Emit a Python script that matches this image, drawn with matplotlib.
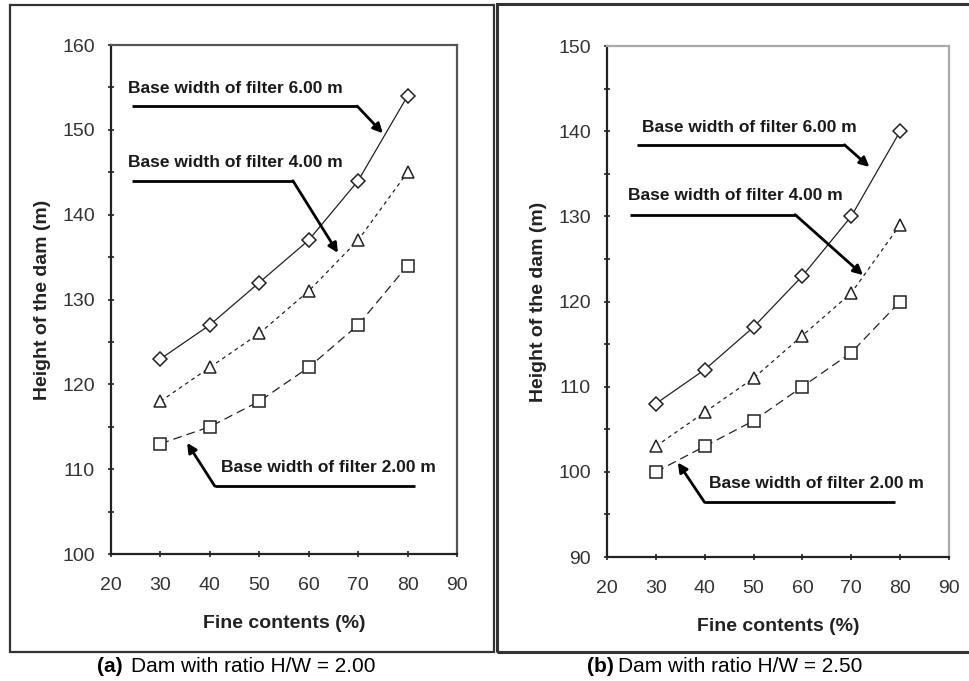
import matplotlib.pyplot as plt
from matplotlib.patches import Rectangle

plt.rcParams['font.family'] = ['Liberation Sans', 'DejaVu Sans']

fines = [30, 40, 50, 60, 70, 80]

# (a) H/W = 2.00
a_filter6 = [123, 127, 132, 137, 144, 154]
a_filter4 = [118, 122, 126, 131, 137, 145]
a_filter2 = [113, 115, 118, 122, 127, 134]

# (b) H/W = 2.50
b_filter6 = [108, 112, 117, 123, 130, 140]
b_filter4 = [103, 107, 111, 116, 121, 129]
b_filter2 = [100, 103, 106, 110, 114, 120]

labels = ['Base width of filter 6.00 m', 'Base width of filter 4.00 m',
          'Base width of filter 2.00 m']


def draw_series(ax, s6, s4, s2):
    mk = dict(mfc='white', mec='#222222', mew=1.1, color='#222222', lw=0.9)
    ax.plot(fines, s6, marker='D', ms=7, ls='-', **mk)
    ax.plot(fines, s4, marker='^', ms=8.5, ls=(0, (3, 3)), **mk)
    ax.plot(fines, s2, marker='s', ms=8, ls=(0, (7, 4)), **mk)


def callout(ax, text, text_xy, start, corner, tip, ha='left'):
    ax.text(text_xy[0], text_xy[1], text, fontsize=12.5, fontweight='bold',
            ha=ha, va='center', color='#1a1a1a')
    ax.plot([start[0], corner[0]], [start[1], corner[1]], color='black',
            lw=2, solid_capstyle='butt')
    ax.annotate('', xy=tip, xytext=corner,
                arrowprops=dict(arrowstyle='-|>', color='black', lw=2,
                                mutation_scale=14, shrinkA=0, shrinkB=0))


def style_axes(ax, ylo, yhi, spine_col):
    ax.set_xlim(20, 90)
    ax.set_ylim(ylo, yhi)
    ax.set_xticks(range(20, 91, 10))
    ax.set_yticks(range(ylo, yhi + 1, 10))
    ax.set_yticks(range(ylo + 5, yhi, 10), minor=True)
    ax.tick_params(axis='both', which='both', direction='inout', length=5,
                   width=1.2, color='#222222', labelsize=14, labelcolor='#333333')
    ax.tick_params(axis='y', pad=9)
    ax.tick_params(axis='x', pad=14)
    for s in ['left', 'bottom']:
        ax.spines[s].set_color('#222222')
        ax.spines[s].set_linewidth(1.6)
    for s in ['top', 'right']:
        ax.spines[s].set_color(spine_col)
        ax.spines[s].set_linewidth(1.6)
    ax.set_xlabel('Fine contents (%)', fontsize=14, fontweight='bold',
                  labelpad=15, color='#222222')
    ax.set_ylabel('Height of the dam (m)', fontsize=14, fontweight='bold',
                  labelpad=8, color='#222222')


fig = plt.figure(figsize=(9.7, 6.81), dpi=100)

# panel frames
fig.patches.append(Rectangle((10 / 970, 1 - 652 / 681), 484 / 970, 647 / 681,
                             transform=fig.transFigure, fill=False,
                             ec='#333333', lw=1.6))
fig.patches.append(Rectangle((497 / 970, 1 - 652 / 681), 480 / 970, 648 / 681,
                             transform=fig.transFigure, fill=False,
                             ec='#333333', lw=2.2))

ax1 = fig.add_axes([111 / 970, 1 - 554 / 681, 346 / 970, 509 / 681])
ax2 = fig.add_axes([607 / 970, 1 - 557 / 681, 342 / 970, 511 / 681])

draw_series(ax1, a_filter6, a_filter4, a_filter2)
style_axes(ax1, 100, 160, '#555555')
callout(ax1, labels[0], (23.5, 154.9), (24.2, 152.8), (69.8, 152.8), (75.0, 149.6))
callout(ax1, labels[1], (23.5, 146.1), (24.2, 144.0), (56.8, 144.0), (65.9, 135.5))
callout(ax1, labels[2], (42.2, 110.2), (81.5, 108.0), (41.0, 108.0), (35.4, 113.1))

draw_series(ax2, b_filter6, b_filter4, b_filter2)
style_axes(ax2, 90, 150, '#aaaaaa')
callout(ax2, labels[0], (27.2, 140.4), (26.2, 138.4), (68.6, 138.4), (73.7, 135.8))
callout(ax2, labels[1], (24.3, 132.4), (24.7, 130.2), (58.5, 130.2), (72.4, 123.1))
callout(ax2, labels[2], (40.8, 98.6), (78.9, 96.4), (40.0, 96.4), (34.5, 101.1))

# captions
fig.text(97 / 970, 1 - 667 / 681, '(a)', fontsize=15, fontweight='bold',
         va='center', ha='left')
fig.text(131 / 970, 1 - 667 / 681, 'Dam with ratio H/W = 2.00', fontsize=15,
         va='center', ha='left')
fig.text(587 / 970, 1 - 667 / 681, '(b)', fontsize=15, fontweight='bold',
         va='center', ha='left')
fig.text(618 / 970, 1 - 667 / 681, 'Dam with ratio H/W = 2.50', fontsize=15,
         va='center', ha='left')

fig.savefig('out.png', dpi=100)
